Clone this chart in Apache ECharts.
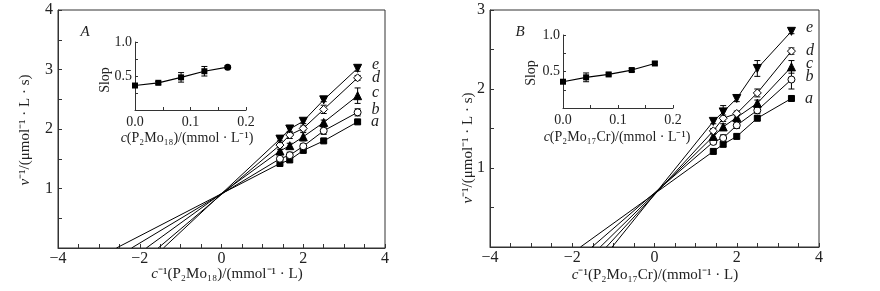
<!DOCTYPE html>
<html><head><meta charset="utf-8">
<script src="https://cdn.jsdelivr.net/npm/echarts@6/dist/echarts.min.js"></script>
<style>html,body{margin:0;padding:0;background:#fff}#c{width:880px;height:291px}</style>
</head><body><div id="c"></div>
<script>
// ---------- data ----------
const seriesNames = ['a', 'b', 'c', 'd', 'e'];
const xPts = [1.43, 1.67, 2.0, 2.5, 3.33];           // c^-1 values
// Panel A (P2Mo18)
const A_a = [1.42, 1.48, 1.64, 1.80, 2.12];
const A_b = [1.50, 1.56, 1.71, 1.97, 2.28];
const A_c = [1.63, 1.72, 1.87, 2.11, 2.56];
const A_d = [1.73, 1.90, 2.01, 2.33, 2.86];
const A_e = [1.83, 2.00, 2.13, 2.49, 3.02];
const A_xint = [-2.57, -2.20, -1.84, -1.55, -1.42];
const A_err_a = [0.03, 0.04, 0.03, 0.03, 0.03];
const A_err_b = [0.03, 0.05, 0.04, 0.06, 0.06];
const A_err_c = [0.03, 0.04, 0.07, 0.04, 0.13];
const A_err_d = [0.03, 0.06, 0.04, 0.07, 0.04];
const A_err_e = [0.03, 0.06, 0.04, 0.03, 0.05];
// Panel B (P2Mo17Cr)
const B_a = [1.21, 1.30, 1.40, 1.63, 1.88];
const B_b = [1.33, 1.38, 1.54, 1.73, 2.12];
const B_c = [1.40, 1.52, 1.64, 1.82, 2.28];
const B_d = [1.47, 1.63, 1.69, 1.95, 2.48];
const B_e = [1.59, 1.71, 1.88, 2.26, 2.73];
const B_xint = [-1.80, -1.52, -1.32, -1.17, -1.03];
const B_err_a = [0.03, 0.03, 0.03, 0.03, 0.03];
const B_err_b = [0.03, 0.04, 0.04, 0.04, 0.12];
const B_err_c = [0.03, 0.04, 0.04, 0.04, 0.08];
const B_err_d = [0.03, 0.04, 0.03, 0.05, 0.04];
const B_err_e = [0.03, 0.08, 0.04, 0.10, 0.03];
// insets: slope vs inhibitor concentration
const insetX = [0, 0.042, 0.083, 0.125, 0.167];
const A_slope = [0.36, 0.40, 0.48, 0.57, 0.63];
const A_slopeErr = [0.02, 0.02, 0.07, 0.07, 0.02];
const B_slope = [0.36, 0.42, 0.46, 0.52, 0.61];
const B_slopeErr = [0.02, 0.06, 0.02, 0.02, 0.02];
// tick labels
const mainXTicks = [-4, -2, 0, 2, 4];
const insetXTicks = [0.0, 0.1, 0.2];

// ---------- styling ----------
const FONT = 'Liberation Serif';
const AX = '#333';
const symbols = [
  {symbol: 'rect', size: 6, fill: '#000', rot: 0},
  {symbol: 'circle', size: 7, fill: '#fff', rot: 0},
  {symbol: 'triangle', size: 8, fill: '#000', rot: 0},
  {symbol: 'diamond', size: 8, fill: '#fff', rot: 0},
  {symbol: 'triangle', size: 8, fill: '#000', rot: 180}
];
const labelOffsets = [[0, 0], [0, -3], [0, -3], [0, 0], [0, -4]];

function fmtMinus(v) { return v < 0 ? '\u2212' + Math.abs(v) : String(v); }

function mainX(gi) {
  return {gridIndex: gi, type: 'value', min: -4, max: 4, interval: 2,
    axisLine: {onZero: false, lineStyle: {color: AX, width: 1}},
    axisTick: {inside: true, length: 4, lineStyle: {color: AX}},
    minorTick: {show: true, splitNumber: 4, length: 4, lineStyle: {color: AX}},
    splitLine: {show: false},
    axisLabel: {fontFamily: FONT, fontSize: 16, color: '#222', margin: 3,
      formatter: v => mainXTicks.indexOf(v) >= 0 ? fmtMinus(v) : ''}};
}
function mainY(gi, max) {
  return {gridIndex: gi, type: 'value', min: 0, max: max, interval: 1,
    axisLine: {onZero: false, lineStyle: {color: AX, width: 1}},
    axisTick: {inside: true, length: 4, lineStyle: {color: AX}},
    minorTick: {show: true, splitNumber: 2, length: 4, lineStyle: {color: AX}},
    splitLine: {show: false},
    axisLabel: {fontFamily: FONT, fontSize: 16, color: '#222', margin: 5,
      formatter: v => v === 0 ? '' : String(v)}};
}
function insetXAxis(gi) {
  return {gridIndex: gi, type: 'value', min: 0, max: 0.2, interval: 0.1,
    axisLine: {onZero: false, lineStyle: {color: AX, width: 1}},
    axisTick: {inside: true, length: 3, lineStyle: {color: AX}},
    minorTick: {show: true, splitNumber: 2, length: 3, lineStyle: {color: AX}},
    splitLine: {show: false},
    axisLabel: {fontFamily: FONT, fontSize: 14, color: '#222', margin: 5,
      formatter: v => insetXTicks.some(t => Math.abs(t - v) < 1e-9) ? v.toFixed(1) : ''}};
}
function insetYAxis(gi) {
  return {gridIndex: gi, type: 'value', min: 0, max: 1.0, interval: 0.5,
    axisLine: {onZero: false, lineStyle: {color: AX, width: 1}},
    axisTick: {inside: true, length: 3, lineStyle: {color: AX}},
    minorTick: {show: true, splitNumber: 2, length: 3, lineStyle: {color: AX}},
    splitLine: {show: false},
    axisLabel: {fontFamily: FONT, fontSize: 14, color: '#222', margin: 3,
      formatter: v => v === 0 ? '' : v.toFixed(1)}};
}

function errSeries(xi, yi, xs, ys, es, capW) {
  return {type: 'custom', xAxisIndex: xi, yAxisIndex: yi, z: 3, silent: true,
    data: xs.map((x, i) => [x, ys[i] - es[i], ys[i] + es[i]]),
    renderItem: function (params, api) {
      const x = api.value(0);
      const p1 = api.coord([x, api.value(1)]);
      const p2 = api.coord([x, api.value(2)]);
      const st = {stroke: '#000', lineWidth: 1};
      return {type: 'group', children: [
        {type: 'line', shape: {x1: p1[0], y1: p1[1], x2: p2[0], y2: p2[1]}, style: st},
        {type: 'line', shape: {x1: p1[0] - capW, y1: p1[1], x2: p1[0] + capW, y2: p1[1]}, style: st},
        {type: 'line', shape: {x1: p2[0] - capW, y1: p2[1], x2: p2[0] + capW, y2: p2[1]}, style: st}
      ]};
    }};
}

function lineSeries(idx, xi, yi, xint, vals, offs) {
  const s = symbols[idx];
  const data = [{value: [xint, 0], symbol: 'none'}];
  xPts.forEach((x, i) => {
    const item = {value: [x, vals[i]]};
    if (i === xPts.length - 1) {
      item.label = {show: true, position: 'right', distance: 10, offset: offs,
        formatter: seriesNames[idx], fontFamily: FONT, fontStyle: 'italic', fontSize: 16, color: '#222'};
    }
    data.push(item);
  });
  return {type: 'line', xAxisIndex: xi, yAxisIndex: yi, z: 4, data: data,
    symbol: s.symbol, symbolSize: s.size, symbolRotate: s.rot, showSymbol: true,
    lineStyle: {color: '#000', width: 1}, itemStyle: {color: s.fill, borderColor: '#000', borderWidth: 1},
    animation: false};
}

function insetSeries(xi, yi, ys, lastSymbol) {
  return {type: 'line', xAxisIndex: xi, yAxisIndex: yi, z: 4,
    data: insetX.map((x, i) => i === insetX.length - 1 && lastSymbol ? {value: [x, ys[i]], symbol: lastSymbol, symbolSize: 7} : [x, ys[i]]),
    symbol: 'rect', symbolSize: 6, lineStyle: {color: '#000', width: 1.2},
    itemStyle: {color: '#000'}, animation: false};
}

const series = [];
const Avals = [A_a, A_b, A_c, A_d, A_e], Aerr = [A_err_a, A_err_b, A_err_c, A_err_d, A_err_e];
const Bvals = [B_a, B_b, B_c, B_d, B_e], Berr = [B_err_a, B_err_b, B_err_c, B_err_d, B_err_e];
for (let i = 0; i < 5; i++) {
  series.push(errSeries(0, 0, xPts, Avals[i], Aerr[i], 3));
  series.push(lineSeries(i, 0, 0, A_xint[i], Avals[i], labelOffsets[i]));
  series.push(errSeries(2, 2, xPts, Bvals[i], Berr[i], 3));
  series.push(lineSeries(i, 2, 2, B_xint[i], Bvals[i], labelOffsets[i]));
}
series.push(errSeries(1, 1, insetX, A_slope, A_slopeErr, 3));
series.push(insetSeries(1, 1, A_slope, 'circle'));
series.push(errSeries(3, 3, insetX, B_slope, B_slopeErr, 3));
series.push(insetSeries(3, 3, B_slope, null));

function txt(x, y, text, rich, size, rot, italic) {
  return {type: 'text', x: x, y: y, rotation: rot || 0, z: 10,
    style: {text: text, rich: rich, fill: '#222', font: (italic ? 'italic ' : '') + size + 'px "' + FONT + '"',
      align: 'center', verticalAlign: 'middle'}};
}
const richMain = {i: {fontStyle: 'italic', fontFamily: FONT, fontSize: 15, fill: '#222'}, n: {fontFamily: FONT, fontSize: 15, fill: '#222'}};
const richInset = {i: {fontStyle: 'italic', fontFamily: FONT, fontSize: 14, fill: '#222'}, n: {fontFamily: FONT, fontSize: 14, fill: '#222'}};

const option = {
  backgroundColor: '#fff',
  animation: false,
  grid: [
    {left: 58, top: 10, width: 327, height: 238, show: true, borderColor: AX, borderWidth: 1},
    {left: 135, top: 42, width: 111, height: 68},
    {left: 490, top: 10, width: 329, height: 237, show: true, borderColor: AX, borderWidth: 1},
    {left: 563, top: 35, width: 110, height: 73}
  ],
  xAxis: [mainX(0), insetXAxis(1), mainX(2), insetXAxis(3)],
  yAxis: [mainY(0, 4), insetYAxis(1), mainY(2, 3), insetYAxis(3)],
  series: series,
  graphic: [
    txt(85, 32, 'A', null, 15, 0, true),
    txt(520, 32, 'B', null, 15, 0, true),
    txt(227, 274, '{i|c}{n|\u207B\u00B9(P\u2082Mo\u2081\u2088)/(mmol\u207B\u00B9 \u00B7 L)}', richMain, 15),
    txt(655, 275, '{i|c}{n|\u207B\u00B9(P\u2082Mo\u2081\u2087Cr)/(mmol\u207B\u00B9 \u00B7 L)}', richMain, 15),
    txt(25, 130, '{i|v}{n|\u207B\u00B9/(\u03BCmol\u207B\u00B9 \u00B7 L \u00B7 s)}', richMain, 15, Math.PI / 2),
    txt(468, 148, '{i|v}{n|\u207B\u00B9/(\u03BCmol\u207B\u00B9 \u00B7 L \u00B7 s)}', richMain, 15, Math.PI / 2),
    txt(187, 138, '{i|c}{n|(P\u2082Mo\u2081\u2088)/(mmol \u00B7 L\u207B\u00B9)}', richInset, 14),
    txt(617, 137, '{i|c}{n|(P\u2082Mo\u2081\u2087Cr)/(mmol \u00B7 L\u207B\u00B9)}', richInset, 14),
    txt(105, 80, 'Slop', null, 14, Math.PI / 2),
    txt(531, 73, 'Slop', null, 14, Math.PI / 2)
  ]
};
const chart = echarts.init(document.getElementById('c'), null, {renderer: 'canvas'});
chart.setOption(option);
</script>
</body></html>
